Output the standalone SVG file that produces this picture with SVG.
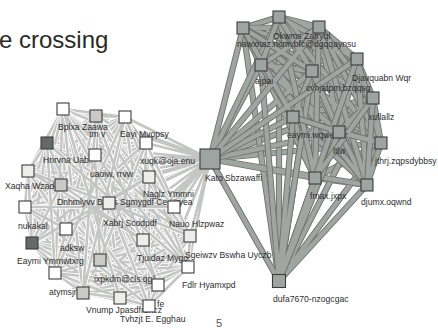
<svg xmlns="http://www.w3.org/2000/svg" width="438" height="328" viewBox="0 0 438 328">
<style>
.le{fill:none;stroke:#ffffff;stroke-width:4.2;stroke-linejoin:round}
.lf{fill:none;stroke:#c4c6c4;stroke-width:2.6;stroke-linejoin:round}
.re{fill:none;stroke:#6d726f;stroke-width:6.2;stroke-linejoin:round}
.rf{fill:none;stroke:#a0a5a2;stroke-width:4.4;stroke-linejoin:round}
.n rect{stroke:#3c3c3c;stroke-width:1.1}
.w{fill:#ffffff}.l{fill:#ededea}.m{fill:#c9cac6}.d{fill:#646a68}.g{fill:#9ea4a1}
text{font-family:"Liberation Sans",Arial,sans-serif;font-size:8.6px;fill:#2e2e2e}
.title{font-size:24px;fill:#2a2a2a}
.pg{font-size:11px;fill:#555555}
</style>
<defs>
<path id="a0" d="M149 306L63 109L96 116L120 298L125 117L158 285L47 143L83 293L95 155L55 273L146 143L188 267L28 171L100 260L61 185L190 236L149 177L143 240L25 207L32 243L109 203L66 229L174 207Z"/>
<path id="a1" d="M149 306L96 116L125 117L63 109L47 143L120 298L95 155L158 285L146 143L83 293L28 171L55 273L61 185L188 267L149 177L100 260L25 207L190 236L109 203L143 240L174 207L32 243L66 229Z"/>
<path id="a2" d="M149 306L125 117L47 143L96 116L95 155L63 109L146 143L120 298L28 171L158 285L61 185L83 293L149 177L55 273L25 207L188 267L109 203L100 260L174 207L190 236L66 229L143 240L32 243Z"/>
<path id="a3" d="M149 306L47 143L95 155L125 117L146 143L96 116L28 171L63 109L61 185L120 298L149 177L158 285L25 207L83 293L109 203L55 273L174 207L188 267L66 229L100 260L32 243L190 236L143 240Z"/>
<path id="a4" d="M149 306L95 155L146 143L47 143L28 171L125 117L61 185L96 116L149 177L63 109L25 207L120 298L109 203L158 285L174 207L83 293L66 229L55 273L32 243L188 267L143 240L100 260L190 236Z"/>
<path id="a5" d="M149 306L146 143L28 171L95 155L61 185L47 143L149 177L125 117L25 207L96 116L109 203L63 109L174 207L120 298L66 229L158 285L32 243L83 293L143 240L55 273L190 236L188 267L100 260Z"/>
<path id="a6" d="M149 306L28 171L61 185L146 143L149 177L95 155L25 207L47 143L109 203L125 117L174 207L96 116L66 229L63 109L32 243L120 298L143 240L158 285L190 236L83 293L100 260L55 273L188 267Z"/>
<path id="a7" d="M149 306L61 185L149 177L28 171L25 207L146 143L109 203L95 155L174 207L47 143L66 229L125 117L32 243L96 116L143 240L63 109L190 236L120 298L100 260L158 285L188 267L83 293L55 273Z"/>
<path id="a8" d="M149 306L149 177L25 207L61 185L109 203L28 171L174 207L146 143L66 229L95 155L32 243L47 143L143 240L125 117L190 236L96 116L100 260L63 109L188 267L120 298L55 273L158 285L83 293Z"/>
<path id="a9" d="M149 306L25 207L109 203L149 177L174 207L61 185L66 229L28 171L32 243L146 143L143 240L95 155L190 236L47 143L100 260L125 117L188 267L96 116L55 273L63 109L83 293L120 298L158 285Z"/>
<path id="a10" d="M149 306L109 203L174 207L25 207L66 229L149 177L32 243L61 185L143 240L28 171L190 236L146 143L100 260L95 155L188 267L47 143L55 273L125 117L83 293L96 116L158 285L63 109L120 298Z"/>
<path id="k1" d="M210 159L63 109M210 159L96 116M210 159L125 117M210 159L47 143M210 159L95 155M210 159L146 143M210 159L28 171M210 159L61 185M210 159L149 177M210 159L25 207M210 159L109 203M210 159L174 207"/>
<path id="k2" d="M210 159L66 229M210 159L32 243M210 159L143 240M210 159L190 236M210 159L100 260M210 159L188 267M210 159L55 273M210 159L83 293M210 159L158 285M210 159L120 298M210 159L149 306"/>
<path id="b0" d="M339 132L243 28L279 17L293 117L319 27L312 71L357 59L261 65L373 98L210 159L381 143L315 178L367 185Z"/>
<path id="b1" d="M339 132L279 17L319 27L243 28L357 59L293 117L373 98L312 71L381 143L261 65L367 185L210 159L315 178Z"/>
<path id="b2" d="M339 132L319 27L357 59L279 17L373 98L243 28L381 143L293 117L367 185L312 71L315 178L261 65L210 159Z"/>
<path id="b3" d="M339 132L357 59L373 98L319 27L381 143L279 17L367 185L243 28L315 178L293 117L210 159L312 71L261 65Z"/>
<path id="b4" d="M339 132L373 98L381 143L357 59L367 185L319 27L315 178L279 17L210 159L243 28L261 65L293 117L312 71Z"/>
<path id="b5" d="M339 132L381 143L367 185L373 98L315 178L357 59L210 159L319 27L261 65L279 17L312 71L243 28L293 117Z"/>
<path id="d1" d="M279 281L243 28M279 281L279 17M279 281L319 27M279 281L357 59M279 281L373 98M279 281L381 143M279 281L367 185"/>
<path id="d2" d="M279 281L315 178M279 281L210 159M279 281L261 65M279 281L312 71M279 281L293 117M279 281L339 132"/>
</defs>
<rect width="438" height="328" fill="#ffffff"/>
<text class="title" x="-1" y="48">e crossing</text>
<g id="connectors">
<use href="#a0" class="le"/><use href="#a0" class="lf"/>
<use href="#k1" class="le"/><use href="#k1" class="lf"/>
<use href="#a1" class="le"/><use href="#a1" class="lf"/>
<use href="#a2" class="le"/><use href="#a2" class="lf"/>
<use href="#a3" class="le"/><use href="#a3" class="lf"/>
<use href="#k2" class="le"/><use href="#k2" class="lf"/>
<use href="#a4" class="le"/><use href="#a4" class="lf"/>
<use href="#a5" class="le"/><use href="#a5" class="lf"/>
<use href="#a6" class="le"/><use href="#a6" class="lf"/>
<use href="#a7" class="le"/><use href="#a7" class="lf"/>
<use href="#a8" class="le"/><use href="#a8" class="lf"/>
<use href="#a9" class="le"/><use href="#a9" class="lf"/>
<use href="#a10" class="le"/><use href="#a10" class="lf"/>
<use href="#b0" class="re"/><use href="#b0" class="rf"/>
<use href="#d1" class="re"/><use href="#d1" class="rf"/>
<use href="#b1" class="re"/><use href="#b1" class="rf"/>
<use href="#b2" class="re"/><use href="#b2" class="rf"/>
<use href="#b3" class="re"/><use href="#b3" class="rf"/>
<use href="#d2" class="re"/><use href="#d2" class="rf"/>
<use href="#b4" class="re"/><use href="#b4" class="rf"/>
<use href="#b5" class="re"/><use href="#b5" class="rf"/>
</g>
<g id="n-r1" class="n"><text x="237" y="47">nawxnaz.ncmvbfc@dgqqaynsu</text><rect class="g" x="237" y="22" width="12" height="12"/></g>
<g id="n-r2" class="n"><text x="273" y="38.5">Okwms Zafryql</text><rect class="g" x="273" y="11" width="12" height="12"/></g>
<g id="n-r3" class="n"><rect class="g" x="313" y="21" width="12" height="12"/></g>
<g id="n-r4" class="n"><text x="255" y="84">ajpai</text><rect class="g" x="255" y="59" width="12" height="12"/></g>
<g id="n-r5" class="n"><text x="306" y="91">cvhjatpm.bzqqsg</text><rect class="g" x="306" y="65" width="12" height="12"/></g>
<g id="n-r6" class="n"><text x="352" y="81">Djavquabn Wqr</text><rect class="g" x="351" y="53" width="12" height="12"/></g>
<g id="n-r7" class="n"><text x="368" y="120">xuflallz</text><rect class="g" x="367" y="92" width="12" height="12"/></g>
<g id="n-r8" class="n"><text x="287" y="138">eaymi.wqwewxr</text><rect class="g" x="287" y="111" width="12" height="12"/></g>
<g id="n-r9" class="n"><text x="333" y="154">ltlw</text><rect class="g" x="333" y="126" width="12" height="12"/></g>
<g id="n-r10" class="n"><text x="375" y="164">jthrj.zqpsdybbsy</text><rect class="g" x="375" y="137" width="12" height="12"/></g>
<g id="n-r11" class="n"><text x="310" y="199">fmax.jxpx</text><rect class="g" x="309" y="172" width="12" height="12"/></g>
<g id="n-r12" class="n"><text x="361" y="205">djumx.oqwnd</text><rect class="g" x="361" y="179" width="12" height="12"/></g>
<g id="n-dufa" class="n"><text x="273" y="302">dufa7670-nzogcgac</text><rect class="g" x="272.5" y="274.5" width="13" height="13"/></g>
<g id="n-l0" class="n"><text x="58" y="130">Bplxa Zaawa</text><rect class="w" x="57" y="103" width="12" height="12"/></g>
<g id="n-l1" class="n"><text x="89" y="137">tm v</text><rect class="m" x="90" y="110" width="12" height="12"/></g>
<g id="n-l2" class="n"><text x="120" y="137">Eayi Mvopsy</text><rect class="w" x="119" y="111" width="12" height="12"/></g>
<g id="n-l3" class="n"><text x="43" y="163">Hnrvna Uab.</text><rect class="d" x="41" y="137" width="12" height="12"/></g>
<g id="n-l5" class="n"><text x="140" y="164">xuqk@oja.enu</text><rect class="w" x="140" y="137" width="12" height="12"/></g>
<g id="n-l4" class="n"><text x="90" y="177">uaoiw, rrvw</text><rect class="w" x="89" y="149" width="12" height="12"/></g>
<g id="n-l6" class="n"><text x="5" y="189">Xaqha Wzade</text><rect class="l" x="22" y="165" width="12" height="12"/></g>
<g id="n-l7" class="n"><text x="57" y="205">Dnhmlyvv Blzzs Sgmygdf Ce Uryea</text><rect class="m" x="55" y="179" width="12" height="12"/></g>
<g id="n-l8" class="n"><text x="143" y="197">Naglz Ymmni</text><rect class="l" x="143" y="171" width="12" height="12"/></g>
<g id="n-l9" class="n"><text x="18" y="229">nukakal</text><rect class="w" x="19" y="201" width="12" height="12"/></g>
<g id="n-l10" class="n"><text x="103" y="226">Xabrj Scodpdf</text><rect class="l" x="103" y="197" width="12" height="12"/></g>
<g id="n-l11" class="n"><text x="169" y="227">Nauo Hlzpwaz</text><rect class="w" x="168" y="201" width="12" height="12"/></g>
<g id="n-l12" class="n"><text x="60" y="251">adksw</text><rect class="w" x="60" y="223" width="12" height="12"/></g>
<g id="n-l13" class="n"><text x="17" y="264">Eaymi Ymmwtxrg</text><rect class="d" x="26" y="237" width="12" height="12"/></g>
<g id="n-l14" class="n"><text x="137" y="261">Tjuidaz Mygo</text><rect class="l" x="137" y="234" width="12" height="12"/></g>
<g id="n-l15" class="n"><text x="185" y="258">Sgeiwzv Bswha Uyczb</text><rect class="l" x="184" y="230" width="12" height="12"/></g>
<g id="n-l16" class="n"><text x="94" y="282">ixpkdm@cls.qg/</text><rect class="m" x="94" y="254" width="12" height="12"/></g>
<g id="n-l17" class="n"><text x="182" y="288">Fdlr Hyamxpd</text><rect class="w" x="182" y="261" width="12" height="12"/></g>
<g id="n-l18" class="n"><text x="49" y="295">atymsjr</text><rect class="w" x="49" y="267" width="12" height="12"/></g>
<g id="n-l19" class="n"><text x="86" y="313">Vnump Jpasdfrbhcz</text><rect class="m" x="77" y="287" width="12" height="12"/></g>
<g id="n-l20" class="n"><text x="157" y="307">fe</text><rect class="w" x="152" y="279" width="12" height="12"/></g>
<g id="n-l21" class="n"><text x="120" y="322">Tvhzjt E. Egghau</text><rect class="l" x="114" y="292" width="12" height="12"/></g>
<g id="n-l22" class="n"><rect class="w" x="143" y="300" width="12" height="12"/></g>
<g id="n-kato" class="n"><text x="205" y="181">Kato Sbzawaffi</text><rect class="g" x="200" y="149" width="20" height="20"/></g>
<text class="pg" x="219" y="327" text-anchor="middle">5</text>
</svg>
